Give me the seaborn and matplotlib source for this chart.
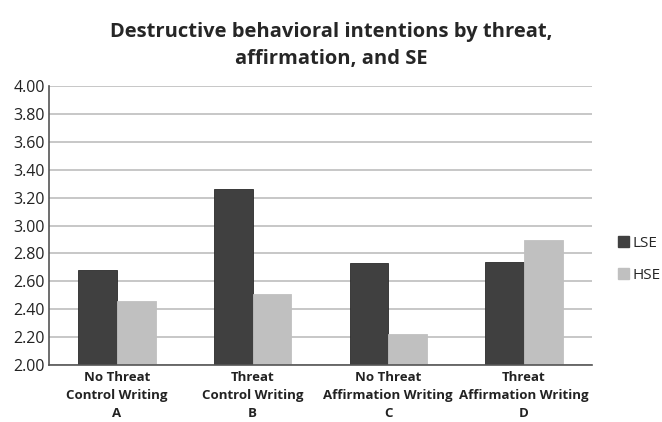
import pandas as pd
import seaborn as sns
import matplotlib.pyplot as plt
from matplotlib.patches import Patch

# 数据
conditions = ['No Threat\nControl Writing\nA', 'Threat\nControl Writing\nB',
              'No Threat\nAffirmation Writing\nC', 'Threat\nAffirmation Writing\nD']
lse_values = [2.68, 3.26, 2.73, 2.74]
hse_values = [2.46, 2.51, 2.22, 2.90]
groups = ['LSE', 'HSE']
y_ticks = [2.00, 2.20, 2.40, 2.60, 2.80, 3.00, 3.20, 3.40, 3.60, 3.80, 4.00]

df = pd.DataFrame({
    'condition': conditions * 2,
    'value': lse_values + hse_values,
    'group': ['LSE'] * 4 + ['HSE'] * 4,
})

sns.set_style('white')
plt.rcParams['font.family'] = ['Open Sans', 'DejaVu Sans']

colors = {'LSE': '#404040', 'HSE': '#c0c0c0'}

fig = plt.figure(figsize=(6.62, 4.22), dpi=100)
ax = fig.add_axes([0.074, 0.135, 0.82, 0.661])

sns.barplot(data=df, x='condition', y='value', hue='group', hue_order=groups,
            palette=colors, width=0.57, ax=ax, legend=False,
            edgecolor='#2a2a2a', linewidth=0.6)
# 浅色柱子去掉深色边框
for bar in ax.patches:
    if bar.get_facecolor()[0] > 0.5:
        bar.set_edgecolor('#c0c0c0')

ax.set_ylim(2.0, 4.0)
ax.set_yticks(y_ticks)
ax.set_yticklabels(['{:.2f}'.format(v) for v in y_ticks], fontsize=11.5, color='#222222')
ax.tick_params(axis='x', labelsize=9.5, length=0, pad=4)
ax.tick_params(axis='y', length=0, pad=3)
for lbl in ax.get_xticklabels():
    lbl.set_fontweight('bold')
    lbl.set_linespacing(1.5)
    lbl.set_color('#222222')
ax.set_xlabel('')
ax.set_ylabel('')
ax.yaxis.grid(True, color='#bdbdbd', linewidth=1.2)
ax.set_axisbelow(True)

for side in ['top', 'right']:
    ax.spines[side].set_visible(False)
for side in ['left', 'bottom']:
    ax.spines[side].set_color('#555555')
    ax.spines[side].set_linewidth(1.2)

handles = [Patch(facecolor=colors[g], edgecolor=colors[g], label=g) for g in groups]
fig.legend(handles=handles, loc='center left', bbox_to_anchor=(0.934, 0.385),
           frameon=False, handlelength=0.7, handleheight=0.7, handletextpad=0.25,
           labelspacing=1.1, borderpad=0, borderaxespad=0, prop={'size': 11})

fig.suptitle('Destructive behavioral intentions by threat,\naffirmation, and SE',
             x=0.5, y=0.948, fontsize=14.5, fontweight='bold', linespacing=1.45)

fig.savefig('out.png', dpi=100)
